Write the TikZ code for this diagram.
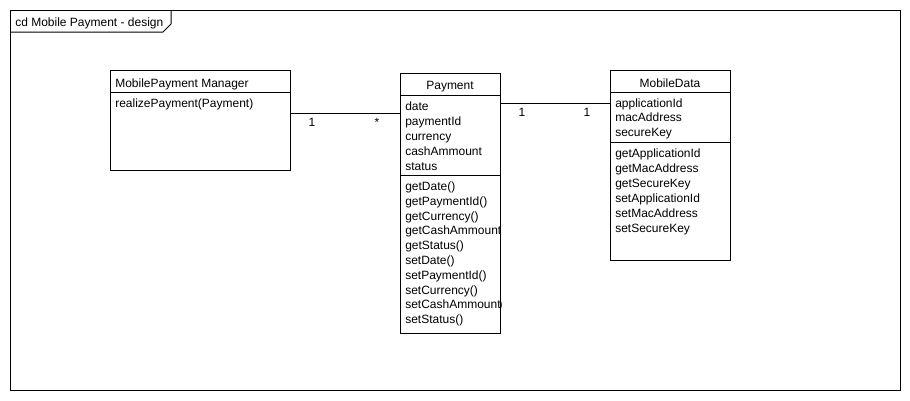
\documentclass[tikz,border=0pt]{standalone}
\usepackage{fontspec}
\setmainfont{Liberation Sans}
\usetikzlibrary{calc}
\begin{document}
\begin{tikzpicture}[x=0.75pt,y=-0.75pt,
  every node/.style={font=\fontsize{9}{11}\selectfont, inner sep=0pt},
  cls/.style={draw, line width=0.75pt, rectangle, anchor=north west, inner sep=0pt},
  sep/.style={line width=0.75pt},
  txt/.style={anchor=base west},
  ctxt/.style={anchor=base},
  assoc/.style={line width=0.75pt},
  mult/.style={anchor=base}]
\useasboundingbox (0,0) rectangle (910,400);

% diagram frame with its name tab
\node[draw, line width=0.75pt, anchor=north west, minimum width=890*0.75pt, minimum height=380*0.75pt] (frame) at (10,10) {};
\coordinate (tabA) at (171,10);
\draw[line width=0.75pt] (tabA) -- (171,24) -- (163,32) -- (frame.west |- 0,32);
\node[txt] (title) at (15,26.5) {cd Mobile Payment - design};

% class MobilePayment Manager
\node[cls, minimum width=180*0.75pt, minimum height=100*0.75pt] (mgr) at (110,70) {};
\draw[sep] (mgr.west |- 0,92.5) -- (mgr.east |- 0,92.5);
\node[txt] (mgrname) at (115,87) {MobilePayment Manager};
\node[txt] (mgrop) at (115,107) {realizePayment(Payment)};

% class Payment
\node[cls, minimum width=100*0.75pt, minimum height=260*0.75pt] (pay) at (400,73) {};
\draw[sep] (pay.west |- 0,95.5) -- (pay.east |- 0,95.5);
\draw[sep] (pay.west |- 0,175.5) -- (pay.east |- 0,175.5);
\node[ctxt] (payname) at (450,89.5) {Payment};
\begin{scope}
  \clip (pay.north west) rectangle (pay.south east);
  \foreach \t [count=\i from 0] in {date,paymentId,currency,cashAmmount,status}
    \node[txt] (pa\i) at (405,110+15*\i) {\t};
  \foreach \t [count=\i from 0] in {getDate(),getPaymentId(),getCurrency(),getCashAmmount(),getStatus(),setDate(),setPaymentId(),setCurrency(),setCashAmmount(),setStatus()}
    \node[txt] (pm\i) at (405,190.5+14.8*\i) {\t};
\end{scope}

% class MobileData
\node[cls, minimum width=120*0.75pt, minimum height=190*0.75pt] (md) at (610,70) {};
\draw[sep] (md.west |- 0,92.5) -- (md.east |- 0,92.5);
\draw[sep] (md.west |- 0,142.5) -- (md.east |- 0,142.5);
\node[ctxt] (mdname) at (670,87.5) {MobileData};
\foreach \t [count=\i from 0] in {applicationId,macAddress,secureKey}
  \node[txt] (ma\i) at (615,107+14.8*\i) {\t};
\foreach \t [count=\i from 0] in {getApplicationId,getMacAddress,getSecureKey,setApplicationId,setMacAddress,setSecureKey}
  \node[txt] (mm\i) at (615,157.5+14.9*\i) {\t};

% associations
\coordinate (a1) at (0,113.5);
\draw[assoc] (mgr.east |- a1) -- (pay.west |- a1);
\node[mult] (m1) at (312,126) {1};
\node[mult] (m2) at (377,126) {*};

\coordinate (a2) at (0,103.5);
\draw[assoc] (pay.east |- a2) -- (md.west |- a2);
\node[mult] (m3) at (522,116.5) {1};
\node[mult] (m4) at (587,116.5) {1};
\end{tikzpicture}
\end{document}
